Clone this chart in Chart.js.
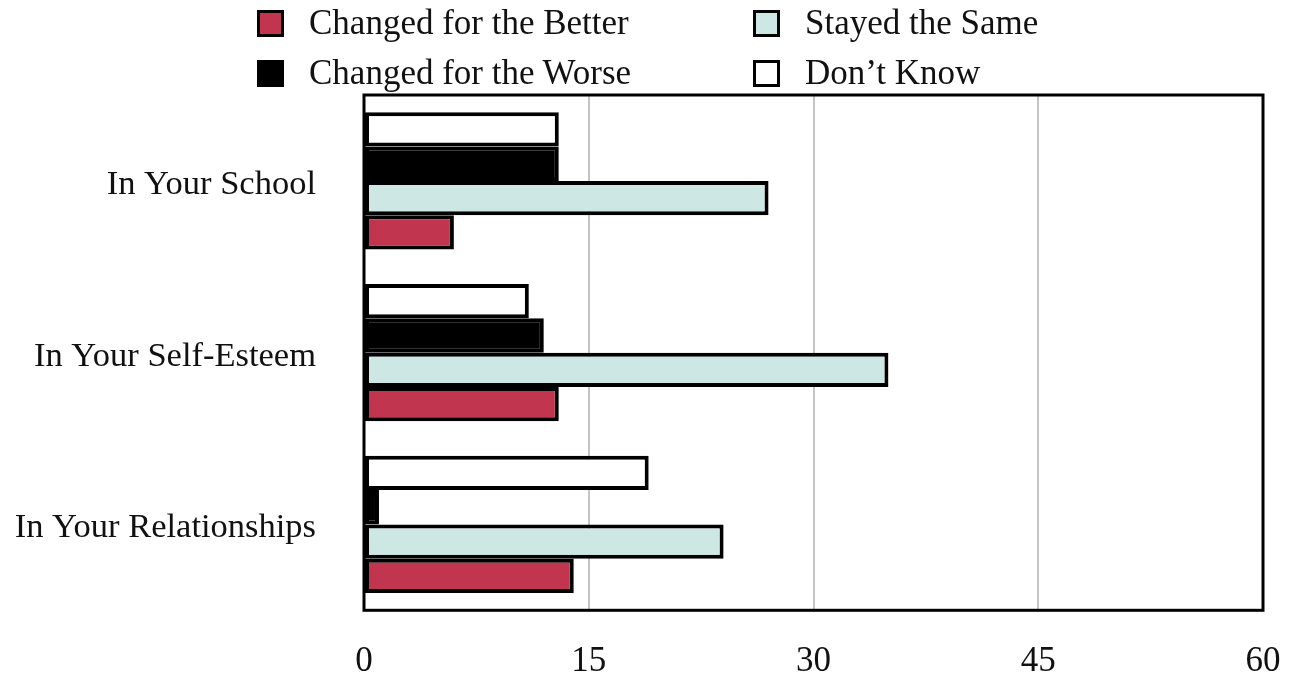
<!DOCTYPE html>
<html>
<head>
<meta charset="utf-8">
<script src="https://cdn.jsdelivr.net/npm/chart.js@4"></script>
<style>
  body { margin: 0; background: #fff; }
  #wrap { position: relative; width: 1289px; height: 679px; }
  #legend { position: absolute; left: 0; top: 0; width: 1289px; height: 95px;
            font-family: "Liberation Serif", serif; font-size: 35px; color: #111; }
  .item { position: absolute; display: flex; align-items: center; height: 40px; white-space: nowrap; }
  .box { width: 27px; height: 27px; box-sizing: border-box; border: 3px solid #000; margin-right: 25px; }
</style>
</head>
<body>
<div id="wrap">
  <canvas id="chart" width="1289" height="679"></canvas>
  <div id="legend"></div>
</div>
<script>
const categories = ["In Your School", "In Your Self-Esteem", "In Your Relationships"];
const better = [6, 13, 14];
const same = [27, 35, 24];
const worse = [13, 12, 1];
const dontKnow = [13, 11, 19];
const xTicks = [0, 15, 30, 45, 60];

const seriesNames = ["Changed for the Better", "Stayed the Same", "Changed for the Worse", "Don\u2019t Know"];
const seriesColors = ["#c1354f", "#cde8e4", "#000000", "#ffffff"];

// legend is laid out in two columns like the original
const legendSpots = [[257, 3], [753, 3], [257, 53], [753, 53]];
const legendEl = document.getElementById("legend");
seriesNames.forEach((name, i) => {
  const div = document.createElement("div");
  div.className = "item";
  div.style.left = legendSpots[i][0] + "px";
  div.style.top = legendSpots[i][1] + "px";
  div.innerHTML = `<span class="box" style="background:${seriesColors[i]}"></span><span>${name}</span>`;
  legendEl.appendChild(div);
});

// draws the black frame round the plot area
const frame = {
  id: "frame",
  afterDatasetsDraw(chart) {
    const a = chart.chartArea;
    const c = chart.ctx;
    c.save();
    c.strokeStyle = "#000";
    c.lineWidth = 3;
    c.strokeRect(a.left, a.top, a.right - a.left, a.bottom - a.top);
    c.restore();
  }
};

const tickFont = { family: "Liberation Serif", size: 35 };
const catFont = { family: "Liberation Serif", size: 34.5 };

// datasets top to bottom inside each group
const makeSet = (i, data) => ({
  label: seriesNames[i],
  data: data,
  backgroundColor: seriesColors[i],
  borderColor: "#000",
  borderWidth: 4,
  borderSkipped: false,
  categoryPercentage: 0.8,
  barPercentage: 1.0
});

new Chart(document.getElementById("chart"), {
  type: "bar",
  data: {
    labels: categories,
    datasets: [makeSet(3, dontKnow), makeSet(2, worse), makeSet(1, same), makeSet(0, better)]
  },
  options: {
    indexAxis: "y",
    responsive: false,
    animation: false,
    layout: { padding: { top: 95, right: 26, left: 0, bottom: 0 } },
    plugins: { legend: { display: false }, tooltip: { enabled: false } },
    scales: {
      x: {
        min: xTicks[0],
        max: xTicks[xTicks.length - 1],
        afterBuildTicks: s => { s.ticks = xTicks.map(v => ({ value: v })); },
        afterFit: s => { s.height = 67; s.paddingLeft = 0; s.paddingRight = 0; },
        grid: { color: "#c4c4c4", lineWidth: 2, drawTicks: false },
        border: { display: false },
        ticks: { font: tickFont, color: "#111", padding: 31 }
      },
      y: {
        afterFit: s => { s.width = 364; },
        grid: { display: false, drawTicks: false },
        border: { display: false },
        ticks: { font: catFont, color: "#111", padding: 48, labelOffset: 4 }
      }
    }
  },
  plugins: [frame]
});
</script>
</body>
</html>
